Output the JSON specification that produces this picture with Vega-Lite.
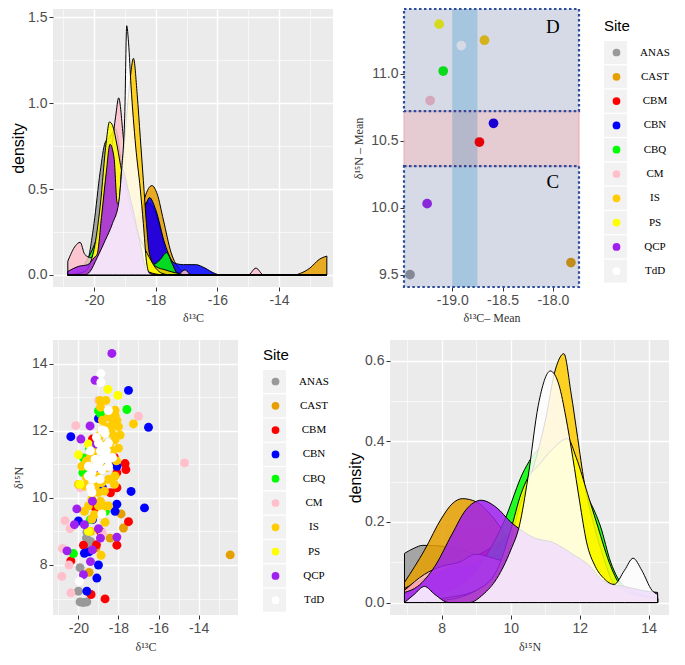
{
"$schema": "https://vega.github.io/schema/vega-lite/v6.json",
"background": "white",
"padding": {"left": 10, "top": 7, "right": 0, "bottom": 0},
"datasets": {
"keys": [{"k":"k01"},{"k":"k02"},{"k":"k03"},{"k":"k04"},{"k":"k05"},{"k":"k06"},{"k":"k07"},{"k":"k08"},{"k":"k09"},{"k":"k10"}],
"tl": [
{"s":"ANAS","x":-20.85,"d":0},{"s":"ANAS","x":-20.5,"d":0},{"s":"ANAS","x":-20.25,"d":0.05},{"s":"ANAS","x":-20.0,"d":0.3},{"s":"ANAS","x":-19.8,"d":0.6},{"s":"ANAS","x":-19.64,"d":0.77},{"s":"ANAS","x":-19.5,"d":0.8},{"s":"ANAS","x":-19.3,"d":0.85},{"s":"ANAS","x":-19.15,"d":0.7},{"s":"ANAS","x":-19.0,"d":0.5},{"s":"ANAS","x":-18.8,"d":0.2},{"s":"ANAS","x":-18.6,"d":0.05},{"s":"ANAS","x":-18.3,"d":0},{"s":"ANAS","x":-12.45,"d":0},
{"s":"CAST","x":-20.85,"d":0},{"s":"CAST","x":-19.5,"d":0.01},{"s":"CAST","x":-19.0,"d":0.05},{"s":"CAST","x":-18.6,"d":0.2},{"s":"CAST","x":-18.35,"d":0.45},{"s":"CAST","x":-18.12,"d":0.52},{"s":"CAST","x":-17.95,"d":0.47},{"s":"CAST","x":-17.75,"d":0.32},{"s":"CAST","x":-17.5,"d":0.13},{"s":"CAST","x":-17.2,"d":0.03},{"s":"CAST","x":-16.9,"d":0.005},{"s":"CAST","x":-16.5,"d":0},{"s":"CAST","x":-13.5,"d":0},{"s":"CAST","x":-13.3,"d":0.01},{"s":"CAST","x":-13.0,"d":0.04},{"s":"CAST","x":-12.7,"d":0.09},{"s":"CAST","x":-12.45,"d":0.11},
{"s":"CBM","x":-20.85,"d":0},{"s":"CBM","x":-19.8,"d":0},{"s":"CBM","x":-19.5,"d":0.02},{"s":"CBM","x":-19.2,"d":0.08},{"s":"CBM","x":-18.9,"d":0.2},{"s":"CBM","x":-18.6,"d":0.33},{"s":"CBM","x":-18.3,"d":0.42},{"s":"CBM","x":-18.1,"d":0.4},{"s":"CBM","x":-17.9,"d":0.3},{"s":"CBM","x":-17.7,"d":0.15},{"s":"CBM","x":-17.5,"d":0.05},{"s":"CBM","x":-17.2,"d":0.01},{"s":"CBM","x":-16.8,"d":0},{"s":"CBM","x":-12.45,"d":0},
{"s":"CBN","x":-20.85,"d":0.01},{"s":"CBN","x":-20.4,"d":0.03},{"s":"CBN","x":-20.0,"d":0.04},{"s":"CBN","x":-19.6,"d":0.05},{"s":"CBN","x":-19.3,"d":0.06},{"s":"CBN","x":-19.0,"d":0.1},{"s":"CBN","x":-18.6,"d":0.25},{"s":"CBN","x":-18.3,"d":0.42},{"s":"CBN","x":-18.2,"d":0.45},{"s":"CBN","x":-18.0,"d":0.38},{"s":"CBN","x":-17.7,"d":0.18},{"s":"CBN","x":-17.4,"d":0.07},{"s":"CBN","x":-17.1,"d":0.06},{"s":"CBN","x":-16.7,"d":0.06},{"s":"CBN","x":-16.4,"d":0.04},{"s":"CBN","x":-16.1,"d":0.01},{"s":"CBN","x":-15.9,"d":0},{"s":"CBN","x":-12.45,"d":0},
{"s":"CBQ","x":-20.85,"d":0},{"s":"CBQ","x":-20.5,"d":0.02},{"s":"CBQ","x":-20.25,"d":0.08},{"s":"CBQ","x":-19.9,"d":0.22},{"s":"CBQ","x":-19.6,"d":0.42},{"s":"CBQ","x":-19.3,"d":0.5},{"s":"CBQ","x":-19.0,"d":0.45},{"s":"CBQ","x":-18.7,"d":0.28},{"s":"CBQ","x":-18.4,"d":0.12},{"s":"CBQ","x":-18.1,"d":0.06},{"s":"CBQ","x":-17.85,"d":0.09},{"s":"CBQ","x":-17.65,"d":0.13},{"s":"CBQ","x":-17.45,"d":0.06},{"s":"CBQ","x":-17.3,"d":0.01},{"s":"CBQ","x":-16.9,"d":0},{"s":"CBQ","x":-12.45,"d":0},
{"s":"CM","x":-20.85,"d":0.08},{"s":"CM","x":-20.6,"d":0.17},{"s":"CM","x":-20.45,"d":0.19},{"s":"CM","x":-20.3,"d":0.12},{"s":"CM","x":-20.1,"d":0.1},{"s":"CM","x":-19.8,"d":0.3},{"s":"CM","x":-19.5,"d":0.62},{"s":"CM","x":-19.3,"d":0.92},{"s":"CM","x":-19.2,"d":1.03},{"s":"CM","x":-19.05,"d":0.8},{"s":"CM","x":-18.8,"d":0.3},{"s":"CM","x":-18.5,"d":0.05},{"s":"CM","x":-18.2,"d":0.01},{"s":"CM","x":-17.3,"d":0},{"s":"CM","x":-17.05,"d":0.03},{"s":"CM","x":-16.85,"d":0},{"s":"CM","x":-15.0,"d":0},{"s":"CM","x":-14.75,"d":0.04},{"s":"CM","x":-14.5,"d":0},{"s":"CM","x":-12.45,"d":0},
{"s":"IS","x":-20.85,"d":0},{"s":"IS","x":-20.0,"d":0.01},{"s":"IS","x":-19.5,"d":0.1},{"s":"IS","x":-19.2,"d":0.4},{"s":"IS","x":-19.0,"d":0.8},{"s":"IS","x":-18.85,"d":1.1},{"s":"IS","x":-18.72,"d":1.26},{"s":"IS","x":-18.6,"d":1.05},{"s":"IS","x":-18.5,"d":0.8},{"s":"IS","x":-18.4,"d":0.55},{"s":"IS","x":-18.3,"d":0.3},{"s":"IS","x":-18.2,"d":0.12},{"s":"IS","x":-18.0,"d":0.05},{"s":"IS","x":-17.7,"d":0.03},{"s":"IS","x":-17.3,"d":0.01},{"s":"IS","x":-17.0,"d":0},{"s":"IS","x":-12.45,"d":0},
{"s":"PS","x":-20.85,"d":0},{"s":"PS","x":-20.3,"d":0.02},{"s":"PS","x":-20.0,"d":0.15},{"s":"PS","x":-19.8,"d":0.4},{"s":"PS","x":-19.6,"d":0.78},{"s":"PS","x":-19.5,"d":0.89},{"s":"PS","x":-19.4,"d":0.87},{"s":"PS","x":-19.25,"d":0.75},{"s":"PS","x":-19.1,"d":0.6},{"s":"PS","x":-18.9,"d":0.45},{"s":"PS","x":-18.6,"d":0.25},{"s":"PS","x":-18.35,"d":0.15},{"s":"PS","x":-18.2,"d":0.1},{"s":"PS","x":-18.0,"d":0.04},{"s":"PS","x":-17.8,"d":0.01},{"s":"PS","x":-17.5,"d":0},{"s":"PS","x":-12.45,"d":0},
{"s":"QCP","x":-20.85,"d":0.02},{"s":"QCP","x":-20.5,"d":0.05},{"s":"QCP","x":-20.2,"d":0.06},{"s":"QCP","x":-20.0,"d":0.1},{"s":"QCP","x":-19.9,"d":0.12},{"s":"QCP","x":-19.75,"d":0.35},{"s":"QCP","x":-19.6,"d":0.6},{"s":"QCP","x":-19.48,"d":0.76},{"s":"QCP","x":-19.35,"d":0.68},{"s":"QCP","x":-19.25,"d":0.42},{"s":"QCP","x":-19.2,"d":0.41},{"s":"QCP","x":-19.15,"d":0.5},{"s":"QCP","x":-19.1,"d":0.62},{"s":"QCP","x":-18.9,"d":0.5},{"s":"QCP","x":-18.7,"d":0.35},{"s":"QCP","x":-18.5,"d":0.18},{"s":"QCP","x":-18.3,"d":0.03},{"s":"QCP","x":-18.1,"d":0.01},{"s":"QCP","x":-17.7,"d":0},{"s":"QCP","x":-12.45,"d":0},
{"s":"TdD","x":-20.85,"d":0},{"s":"TdD","x":-20.3,"d":0},{"s":"TdD","x":-20.13,"d":0.02},{"s":"TdD","x":-19.9,"d":0.1},{"s":"TdD","x":-19.64,"d":0.2},{"s":"TdD","x":-19.4,"d":0.3},{"s":"TdD","x":-19.2,"d":0.42},{"s":"TdD","x":-19.1,"d":0.62},{"s":"TdD","x":-19.0,"d":0.95},{"s":"TdD","x":-18.94,"d":1.45},{"s":"TdD","x":-18.88,"d":1.35},{"s":"TdD","x":-18.8,"d":1.1},{"s":"TdD","x":-18.65,"d":0.75},{"s":"TdD","x":-18.5,"d":0.5},{"s":"TdD","x":-18.4,"d":0.3},{"s":"TdD","x":-18.3,"d":0.08},{"s":"TdD","x":-18.2,"d":0.01},{"s":"TdD","x":-18.0,"d":0},{"s":"TdD","x":-12.45,"d":0}
],
"br": [
{"s":"ANAS","x":6.92,"d":0.122},{"s":"ANAS","x":7.2,"d":0.135},{"s":"ANAS","x":7.45,"d":0.142},{"s":"ANAS","x":8.0,"d":0.14},{"s":"ANAS","x":8.5,"d":0.13},{"s":"ANAS","x":9.0,"d":0.12},{"s":"ANAS","x":9.5,"d":0.1},{"s":"ANAS","x":10.0,"d":0.06},{"s":"ANAS","x":10.5,"d":0.03},{"s":"ANAS","x":11.0,"d":0.01},{"s":"ANAS","x":11.5,"d":0},{"s":"ANAS","x":14.26,"d":0},
{"s":"CAST","x":6.92,"d":0.05},{"s":"CAST","x":7.5,"d":0.13},{"s":"CAST","x":8.0,"d":0.21},{"s":"CAST","x":8.3,"d":0.245},{"s":"CAST","x":8.6,"d":0.258},{"s":"CAST","x":9.0,"d":0.25},{"s":"CAST","x":9.5,"d":0.21},{"s":"CAST","x":10.0,"d":0.15},{"s":"CAST","x":10.5,"d":0.1},{"s":"CAST","x":11.0,"d":0.07},{"s":"CAST","x":12.0,"d":0.04},{"s":"CAST","x":13.0,"d":0.02},{"s":"CAST","x":14.26,"d":0.01},
{"s":"CBM","x":6.92,"d":0.035},{"s":"CBM","x":7.5,"d":0.06},{"s":"CBM","x":8.0,"d":0.08},{"s":"CBM","x":8.6,"d":0.1},{"s":"CBM","x":9.3,"d":0.13},{"s":"CBM","x":10.0,"d":0.17},{"s":"CBM","x":10.5,"d":0.2},{"s":"CBM","x":11.0,"d":0.22},{"s":"CBM","x":11.5,"d":0.18},{"s":"CBM","x":12.0,"d":0.1},{"s":"CBM","x":12.5,"d":0.04},{"s":"CBM","x":13.0,"d":0.01},{"s":"CBM","x":14.26,"d":0},
{"s":"CBN","x":6.92,"d":0.02},{"s":"CBN","x":7.5,"d":0.05},{"s":"CBN","x":8.0,"d":0.08},{"s":"CBN","x":8.5,"d":0.09},{"s":"CBN","x":9.0,"d":0.1},{"s":"CBN","x":9.5,"d":0.13},{"s":"CBN","x":10.0,"d":0.17},{"s":"CBN","x":10.5,"d":0.17},{"s":"CBN","x":11.0,"d":0.16},{"s":"CBN","x":11.5,"d":0.14},{"s":"CBN","x":12.0,"d":0.12},{"s":"CBN","x":12.5,"d":0.08},{"s":"CBN","x":13.0,"d":0.05},{"s":"CBN","x":13.5,"d":0.02},{"s":"CBN","x":14.26,"d":0.01},
{"s":"CBQ","x":6.92,"d":0},{"s":"CBQ","x":8.0,"d":0.02},{"s":"CBQ","x":9.0,"d":0.08},{"s":"CBQ","x":9.8,"d":0.2},{"s":"CBQ","x":10.4,"d":0.33},{"s":"CBQ","x":10.93,"d":0.385},{"s":"CBQ","x":11.4,"d":0.35},{"s":"CBQ","x":11.9,"d":0.3},{"s":"CBQ","x":12.3,"d":0.25},{"s":"CBQ","x":12.6,"d":0.19},{"s":"CBQ","x":12.9,"d":0.1},{"s":"CBQ","x":13.3,"d":0.04},{"s":"CBQ","x":14.26,"d":0.01},
{"s":"CM","x":6.92,"d":0.03},{"s":"CM","x":7.5,"d":0.07},{"s":"CM","x":8.0,"d":0.09},{"s":"CM","x":8.5,"d":0.1},{"s":"CM","x":9.0,"d":0.12},{"s":"CM","x":9.5,"d":0.11},{"s":"CM","x":10.0,"d":0.1},{"s":"CM","x":10.5,"d":0.11},{"s":"CM","x":11.0,"d":0.12},{"s":"CM","x":11.5,"d":0.12},{"s":"CM","x":12.0,"d":0.11},{"s":"CM","x":12.5,"d":0.08},{"s":"CM","x":13.0,"d":0.04},{"s":"CM","x":13.5,"d":0.01},{"s":"CM","x":14.26,"d":0},
{"s":"IS","x":6.92,"d":0},{"s":"IS","x":8.0,"d":0.01},{"s":"IS","x":9.0,"d":0.03},{"s":"IS","x":9.8,"d":0.1},{"s":"IS","x":10.3,"d":0.25},{"s":"IS","x":10.6,"d":0.32},{"s":"IS","x":11.0,"d":0.45},{"s":"IS","x":11.3,"d":0.58},{"s":"IS","x":11.54,"d":0.618},{"s":"IS","x":11.75,"d":0.52},{"s":"IS","x":11.94,"d":0.41},{"s":"IS","x":12.13,"d":0.3},{"s":"IS","x":12.42,"d":0.19},{"s":"IS","x":12.7,"d":0.11},{"s":"IS","x":12.9,"d":0.06},{"s":"IS","x":13.2,"d":0.03},{"s":"IS","x":13.6,"d":0.02},{"s":"IS","x":14.26,"d":0.01},
{"s":"PS","x":6.92,"d":0},{"s":"PS","x":8.0,"d":0.005},{"s":"PS","x":9.0,"d":0.03},{"s":"PS","x":9.6,"d":0.08},{"s":"PS","x":10.0,"d":0.18},{"s":"PS","x":10.3,"d":0.27},{"s":"PS","x":10.5,"d":0.31},{"s":"PS","x":10.8,"d":0.34},{"s":"PS","x":11.2,"d":0.38},{"s":"PS","x":11.65,"d":0.407},{"s":"PS","x":11.9,"d":0.36},{"s":"PS","x":12.23,"d":0.27},{"s":"PS","x":12.52,"d":0.19},{"s":"PS","x":12.9,"d":0.09},{"s":"PS","x":13.2,"d":0.04},{"s":"PS","x":13.6,"d":0.02},{"s":"PS","x":14.26,"d":0.01},
{"s":"QCP","x":6.92,"d":0.025},{"s":"QCP","x":7.3,"d":0.04},{"s":"QCP","x":7.8,"d":0.09},{"s":"QCP","x":8.3,"d":0.17},{"s":"QCP","x":8.7,"d":0.23},{"s":"QCP","x":9.14,"d":0.254},{"s":"QCP","x":9.6,"d":0.235},{"s":"QCP","x":10.0,"d":0.2},{"s":"QCP","x":10.3,"d":0.18},{"s":"QCP","x":10.7,"d":0.16},{"s":"QCP","x":11.2,"d":0.15},{"s":"QCP","x":11.8,"d":0.12},{"s":"QCP","x":12.3,"d":0.09},{"s":"QCP","x":12.6,"d":0.06},{"s":"QCP","x":12.9,"d":0.045},{"s":"QCP","x":13.3,"d":0.04},{"s":"QCP","x":13.8,"d":0.03},{"s":"QCP","x":14.26,"d":0.025},
{"s":"TdD","x":6.92,"d":0},{"s":"TdD","x":7.2,"d":0.02},{"s":"TdD","x":7.5,"d":0.04},{"s":"TdD","x":7.8,"d":0.02},{"s":"TdD","x":8.2,"d":0},{"s":"TdD","x":8.8,"d":0},{"s":"TdD","x":9.2,"d":0.02},{"s":"TdD","x":9.6,"d":0.06},{"s":"TdD","x":10.0,"d":0.13},{"s":"TdD","x":10.25,"d":0.19},{"s":"TdD","x":10.5,"d":0.31},{"s":"TdD","x":10.8,"d":0.49},{"s":"TdD","x":11.15,"d":0.575},{"s":"TdD","x":11.4,"d":0.54},{"s":"TdD","x":11.6,"d":0.46},{"s":"TdD","x":11.8,"d":0.36},{"s":"TdD","x":12.0,"d":0.25},{"s":"TdD","x":12.2,"d":0.15},{"s":"TdD","x":12.45,"d":0.09},{"s":"TdD","x":12.7,"d":0.06},{"s":"TdD","x":13.0,"d":0.045},{"s":"TdD","x":13.3,"d":0.08},{"s":"TdD","x":13.55,"d":0.11},{"s":"TdD","x":13.8,"d":0.08},{"s":"TdD","x":14.1,"d":0.03},{"s":"TdD","x":14.26,"d":0.02}
],
"tr": [
{"s":"ANAS","x":-19.42,"y":9.5},{"s":"CAST","x":-17.82,"y":9.59},{"s":"CBM","x":-18.73,"y":10.49},{"s":"CBN","x":-18.59,"y":10.63},{"s":"CBQ","x":-19.09,"y":11.02},{"s":"CM","x":-19.22,"y":10.8},{"s":"IS","x":-18.68,"y":11.25},{"s":"PS","x":-19.13,"y":11.37},{"s":"QCP","x":-19.25,"y":10.03},{"s":"TdD","x":-18.91,"y":11.21}
],
"bl": [
{"s":"ANAS","c":-19.58,"n":8.98},{"s":"ANAS","c":-19.53,"n":8.69},{"s":"ANAS","c":-19.47,"n":8.59},{"s":"ANAS","c":-19.6,"n":8.8},{"s":"ANAS","c":-19.4,"n":8.7},{"s":"ANAS","c":-19.92,"n":7.92},{"s":"ANAS","c":-20.0,"n":7.22},{"s":"ANAS","c":-19.92,"n":6.9},{"s":"ANAS","c":-19.58,"n":6.9},{"s":"ANAS","c":-19.75,"n":6.88},{"s":"ANAS","c":-19.5,"n":8.5},
{"s":"CAST","c":-17.87,"n":9.52},{"s":"CAST","c":-17.75,"n":9.1},{"s":"CAST","c":-18.42,"n":8.8},{"s":"CAST","c":-19.12,"n":8.51},{"s":"CAST","c":-19.47,"n":7.78},{"s":"CAST","c":-12.42,"n":8.3},
{"s":"CBM","c":-17.67,"n":11.02},{"s":"CBM","c":-17.63,"n":10.84},{"s":"CBM","c":-18.08,"n":10.75},{"s":"CBM","c":-18.08,"n":10.3},{"s":"CBM","c":-17.5,"n":9.29},{"s":"CBM","c":-18.08,"n":8.59},{"s":"CBM","c":-19.75,"n":8.59},{"s":"CBM","c":-20.38,"n":8.12},{"s":"CBM","c":-19.37,"n":7.12},{"s":"CBM","c":-18.67,"n":6.99},{"s":"CBM","c":-19.3,"n":11.75},{"s":"CBM","c":-18.2,"n":11.2},{"s":"CBM","c":-18.4,"n":10.15},{"s":"CBM","c":-19.15,"n":9.7},{"s":"CBM","c":-19.1,"n":8.6},{"s":"CBM","c":-18.9,"n":9.0},
{"s":"CBN","c":-17.5,"n":13.2},{"s":"CBN","c":-16.5,"n":12.1},{"s":"CBN","c":-20.38,"n":11.82},{"s":"CBN","c":-19.0,"n":12.36},{"s":"CBN","c":-18.08,"n":10.94},{"s":"CBN","c":-17.37,"n":10.19},{"s":"CBN","c":-16.7,"n":9.7},{"s":"CBN","c":-18.08,"n":9.81},{"s":"CBN","c":-18.17,"n":9.6},{"s":"CBN","c":-20.0,"n":9.31},{"s":"CBN","c":-19.47,"n":8.39},{"s":"CBN","c":-19.7,"n":8.35},{"s":"CBN","c":-19.0,"n":8.0},{"s":"CBN","c":-19.08,"n":7.61},{"s":"CBN","c":-19.58,"n":7.22},{"s":"CBN","c":-18.8,"n":10.3},{"s":"CBN","c":-19.3,"n":9.35},{"s":"CBN","c":-18.5,"n":11.0},
{"s":"CBQ","c":-19.0,"n":12.59},{"s":"CBQ","c":-17.58,"n":12.63},{"s":"CBQ","c":-19.45,"n":11.48},{"s":"CBQ","c":-19.75,"n":11.19},{"s":"CBQ","c":-19.78,"n":10.75},{"s":"CBQ","c":-20.25,"n":8.34},{"s":"CBQ","c":-18.65,"n":9.6},{"s":"CBQ","c":-19.4,"n":9.35},{"s":"CBQ","c":-18.9,"n":12.5},
{"s":"CM","c":-19.0,"n":12.9},{"s":"CM","c":-17.0,"n":12.43},{"s":"CM","c":-20.13,"n":12.15},{"s":"CM","c":-14.7,"n":11.04},{"s":"CM","c":-20.67,"n":9.32},{"s":"CM","c":-20.42,"n":9.08},{"s":"CM","c":-20.8,"n":8.49},{"s":"CM","c":-20.47,"n":8.0},{"s":"CM","c":-20.83,"n":7.66},{"s":"CM","c":-20.38,"n":7.17},{"s":"CM","c":-18.3,"n":12.55},{"s":"CM","c":-19.9,"n":10.3},{"s":"CM","c":-18.8,"n":8.95},
{"s":"IS","c":-18.92,"n":12.9},{"s":"IS","c":-18.63,"n":12.9},{"s":"IS","c":-17.25,"n":12.2},{"s":"IS","c":-18.8,"n":12.31},{"s":"IS","c":-18.5,"n":12.41},{"s":"IS","c":-18.17,"n":12.46},{"s":"IS","c":-18.08,"n":12.31},{"s":"IS","c":-18.0,"n":12.12},{"s":"IS","c":-18.33,"n":11.92},{"s":"IS","c":-18.83,"n":12.02},{"s":"IS","c":-19.0,"n":11.73},{"s":"IS","c":-18.17,"n":11.73},{"s":"IS","c":-18.0,"n":11.48},{"s":"IS","c":-18.5,"n":11.33},{"s":"IS","c":-18.83,"n":11.14},{"s":"IS","c":-19.17,"n":10.94},{"s":"IS","c":-19.5,"n":10.94},{"s":"IS","c":-19.83,"n":10.94},{"s":"IS","c":-20.0,"n":10.4},{"s":"IS","c":-19.67,"n":10.35},{"s":"IS","c":-19.33,"n":10.35},{"s":"IS","c":-18.83,"n":10.45},{"s":"IS","c":-18.5,"n":10.55},{"s":"IS","c":-18.17,"n":10.65},{"s":"IS","c":-19.0,"n":10.16},{"s":"IS","c":-19.33,"n":9.96},{"s":"IS","c":-19.5,"n":9.76},{"s":"IS","c":-19.0,"n":9.76},{"s":"IS","c":-18.83,"n":9.57},{"s":"IS","c":-18.5,"n":9.76},{"s":"IS","c":-19.33,"n":9.37},{"s":"IS","c":-18.67,"n":9.27},{"s":"IS","c":-18.67,"n":9.76},{"s":"IS","c":-19.08,"n":10.65},{"s":"IS","c":-18.42,"n":11.63},{"s":"IS","c":-18.67,"n":12.12},{"s":"IS","c":-17.92,"n":11.87},{"s":"IS","c":-18.17,"n":12.61},{"s":"IS","c":-19.37,"n":9.0},{"s":"IS","c":-18.87,"n":8.29},{"s":"IS","c":-19.6,"n":10.6},{"s":"IS","c":-19.2,"n":11.4},{"s":"IS","c":-18.3,"n":12.2},{"s":"IS","c":-18.9,"n":11.9},{"s":"IS","c":-19.4,"n":11.2},{"s":"IS","c":-18.6,"n":10.9},{"s":"IS","c":-18.2,"n":10.4},{"s":"IS","c":-19.7,"n":9.6},{"s":"IS","c":-18.4,"n":12.0},{"s":"IS","c":-18.3,"n":11.4},{"s":"IS","c":-18.6,"n":11.6},{"s":"IS","c":-19.1,"n":10.4},{"s":"IS","c":-18.7,"n":10.2},{"s":"IS","c":-19.2,"n":9.5},{"s":"IS","c":-18.9,"n":12.7},{"s":"IS","c":-18.1,"n":11.1},{"s":"IS","c":-19.6,"n":11.1},{"s":"IS","c":-18.9,"n":9.9},
{"s":"PS","c":-18.53,"n":13.23},{"s":"PS","c":-18.03,"n":13.05},{"s":"PS","c":-20.0,"n":11.28},{"s":"PS","c":-19.92,"n":10.4},{"s":"PS","c":-19.5,"n":11.6},{"s":"PS","c":-19.5,"n":9.0},
{"s":"QCP","c":-18.33,"n":14.3},{"s":"QCP","c":-19.17,"n":13.5},{"s":"QCP","c":-19.42,"n":12.14},{"s":"QCP","c":-19.88,"n":11.75},{"s":"QCP","c":-20.08,"n":9.67},{"s":"QCP","c":-19.0,"n":9.08},{"s":"QCP","c":-18.08,"n":8.83},{"s":"QCP","c":-20.57,"n":8.42},{"s":"QCP","c":-19.75,"n":7.71},{"s":"QCP","c":-19.3,"n":9.9},{"s":"QCP","c":-19.0,"n":10.9},{"s":"QCP","c":-19.7,"n":9.2},{"s":"QCP","c":-19.4,"n":8.1},{"s":"QCP","c":-18.9,"n":8.8},{"s":"QCP","c":-20.2,"n":9.2},{"s":"QCP","c":-19.1,"n":11.6},{"s":"QCP","c":-19.3,"n":8.45},
{"s":"TdD","c":-18.88,"n":13.7},{"s":"TdD","c":-18.88,"n":13.44},{"s":"TdD","c":-18.5,"n":12.6},{"s":"TdD","c":-18.83,"n":12.02},{"s":"TdD","c":-18.67,"n":11.92},{"s":"TdD","c":-19.0,"n":11.63},{"s":"TdD","c":-18.83,"n":11.53},{"s":"TdD","c":-18.5,"n":11.63},{"s":"TdD","c":-18.67,"n":11.33},{"s":"TdD","c":-19.17,"n":11.14},{"s":"TdD","c":-18.83,"n":11.14},{"s":"TdD","c":-18.5,"n":11.14},{"s":"TdD","c":-19.5,"n":10.94},{"s":"TdD","c":-19.33,"n":10.75},{"s":"TdD","c":-18.83,"n":10.84},{"s":"TdD","c":-18.5,"n":10.94},{"s":"TdD","c":-19.0,"n":10.94},{"s":"TdD","c":-19.5,"n":10.65},{"s":"TdD","c":-18.92,"n":10.55},{"s":"TdD","c":-19.33,"n":10.16},{"s":"TdD","c":-18.83,"n":9.52},{"s":"TdD","c":-19.95,"n":7.51},{"s":"TdD","c":-19.3,"n":10.55},{"s":"TdD","c":-18.7,"n":12.0},{"s":"TdD","c":-19.4,"n":11.4},{"s":"TdD","c":-18.3,"n":11.2},{"s":"TdD","c":-19.1,"n":11.8},{"s":"TdD","c":-18.9,"n":11.4},{"s":"TdD","c":-19.2,"n":10.9},{"s":"TdD","c":-18.6,"n":11.4},{"s":"TdD","c":-19.4,"n":10.3}
]
},
"spacing": 17,
"resolve": {"scale": {"color": "independent", "fill": "independent"}, "legend": {"color": "independent", "fill": "independent"}},
"vconcat": [
{
"spacing": 19,
"resolve": {"scale": {"color": "independent", "fill": "independent"}, "legend": {"color": "independent", "fill": "independent"}},
"hconcat": [
{
"width": 280, "height": 278,
"data": {"name": "tl"},
"mark": {"type": "area", "stroke": "black", "strokeWidth": 1, "fillOpacity": 0.85, "interpolate": "monotone"},
"encoding": {
"x": {"field": "x", "type": "quantitative", "title": "δ¹³C",
 "scale": {"domain": [-21.33, -12.25], "nice": false, "zero": false},
 "axis": {"values": [-21,-20,-19,-18,-17,-16,-15,-14,-13], "minExtent": 20, "maxExtent": 20, "titlePadding": 5,
  "labelExpr": "round(datum.value) % 2 === 0 ? replace(format(datum.value, 'd'), '−', '-') : ''",
  "gridWidth": {"condition": {"test": "round(datum.value) % 2 === 0", "value": 1.4}, "value": 0.6},
  "tickOpacity": {"condition": {"test": "round(datum.value) % 2 === 0", "value": 1}, "value": 0}}},
"y": {"field": "d", "type": "quantitative", "stack": null, "title": "density",
 "scale": {"domain": [-0.07, 1.547], "nice": false, "zero": false},
 "axis": {"values": [0,0.25,0.5,0.75,1,1.25,1.5], "minExtent": 26, "maxExtent": 26, "titlePadding": 1,
  "titleFont": "Liberation Sans", "titleFontSize": 16, "titleColor": "#000000",
  "labelExpr": "round(datum.value*4) % 2 === 0 ? format(datum.value, '.1f') : ''",
  "gridWidth": {"condition": {"test": "round(datum.value*4) % 2 === 0", "value": 1.4}, "value": 0.6},
  "tickOpacity": {"condition": {"test": "round(datum.value*4) % 2 === 0", "value": 1}, "value": 0}}},
"color": {"field": "s", "type": "nominal", "legend": null,
 "scale": {"domain": ["ANAS","CAST","CBM","CBN","CBQ","CM","IS","PS","QCP","TdD"], "range": ["#999999","#E69F00","#FF0000","#0000FF","#00FF00","#FFC0CB","#FFCC00","#FFFF00","#A020F0","#FFFFFF"]}}
}
},
{
"width": 175, "height": 278,
"layer": [
{
"data": {"values": [{"g": -19.25}, {"g": -18.75}, {"g": -18.25}, {"g": -17.75}]},
"mark": {"type": "rule", "color": "#FFFFFF", "strokeWidth": 0.6},
"encoding": {
"x": {"field": "g", "type": "quantitative", "title": "δ¹³C– Mean",
 "scale": {"domain": [-19.48, -17.74], "nice": false, "zero": false},
 "axis": {"values": [-19, -18.5, -18], "minExtent": 20, "maxExtent": 20, "titlePadding": 5, "gridWidth": 1.4,
  "labelExpr": "'-' + format(-datum.value, '.1f')"}}
}
},
{
"data": {"values": [{"a": -19.0, "b": -18.75}]},
"mark": {"type": "rect", "fill": "#87CEEB", "opacity": 0.5},
"encoding": {
"x": {"field": "a", "type": "quantitative", "title": "δ¹³C– Mean"},
"x2": {"field": "b"}
}
},
{
"data": {"name": "keys"},
"mark": {"type": "square", "opacity": 0},
"encoding": {
"color": {"field": "k", "type": "nominal", "title": "Site",
 "scale": {"domain": ["k01","k02","k03","k04","k05","k06","k07","k08","k09","k10"], "range": ["#F2F2F2","#F2F2F2","#F2F2F2","#F2F2F2","#F2F2F2","#F2F2F2","#F2F2F2","#F2F2F2","#F2F2F2","#F2F2F2"]},
 "legend": {"orient": "none", "legendX": 200, "legendY": 10, "symbolType": "square", "symbolSize": 529, "symbolOpacity": 1, "symbolStrokeWidth": 0, "labelExpr": "''", "rowPadding": 1.3, "padding": 0, "titlePadding": 7}}
}
},
{
"data": {"name": "tr"},
"mark": {"type": "point", "filled": true, "size": 95, "opacity": 1},
"encoding": {
"x": {"field": "x", "type": "quantitative", "title": "δ¹³C– Mean"},
"y": {"field": "y", "type": "quantitative", "title": "δ¹⁵N – Mean",
 "scale": {"domain": [9.408, 11.483], "nice": false, "zero": false},
 "axis": {"values": [9.5,9.75,10,10.25,10.5,10.75,11,11.25], "minExtent": 34, "maxExtent": 34, "titlePadding": 5,
  "labelExpr": "round(datum.value*4) % 2 === 0 ? format(datum.value, '.1f') : ''",
  "gridWidth": {"condition": {"test": "round(datum.value*4) % 2 === 0", "value": 1.4}, "value": 0.6},
  "tickOpacity": {"condition": {"test": "round(datum.value*4) % 2 === 0", "value": 1}, "value": 0}}},
"fill": {"field": "s", "type": "nominal",
 "scale": {"domain": ["ANAS","CAST","CBM","CBN","CBQ","CM","IS","PS","QCP","TdD"], "range": ["#999999","#E69F00","#FF0000","#0000FF","#00FF00","#FFC0CB","#FFCC00","#FFFF00","#A020F0","#FFFFFF"]},
 "legend": {"title": null, "orient": "none", "legendX": 207, "legendY": 38, "symbolType": "circle", "symbolSize": 60, "symbolOpacity": 1, "symbolStrokeWidth": 0, "rowPadding": 12.3, "labelOffset": 33, "labelAlign": "center", "padding": 0}}
}
},
{
"data": {"values": [{"a": 10.31, "b": 10.72}]},
"mark": {"type": "rect", "fill": "#780020", "fillOpacity": 0.2, "stroke": "#EBA8B4", "strokeWidth": 1},
"encoding": {"y": {"field": "a", "type": "quantitative", "title": "δ¹⁵N – Mean"}, "y2": {"field": "b"}}
},
{
"data": {"values": [{"a": 10.72, "b": 11.483}, {"a": 9.408, "b": 10.31}]},
"mark": {"type": "rect", "fill": "#2D4682", "fillOpacity": 0.2, "stroke": "#2B4C9B", "strokeWidth": 2.2, "strokeDash": [2.5, 2.5]},
"encoding": {"y": {"field": "a", "type": "quantitative", "title": "δ¹⁵N – Mean"}, "y2": {"field": "b"}}
},
{
"data": {"values": [{"x": -18.0, "y": 11.35, "t": "D"}, {"x": -18.0, "y": 10.19, "t": "C"}]},
"mark": {"type": "text", "font": "Liberation Serif", "fontSize": 19, "color": "#000000"},
"encoding": {"x": {"field": "x", "type": "quantitative", "title": "δ¹³C– Mean"}, "y": {"field": "y", "type": "quantitative", "title": "δ¹⁵N – Mean"}, "text": {"field": "t"}}
}
]
}
]
},
{
"spacing": 18,
"resolve": {"scale": {"color": "independent", "fill": "independent"}, "legend": {"color": "independent", "fill": "independent"}},
"hconcat": [
{
"width": 185, "height": 275,
"layer": [
{
"data": {"name": "keys"},
"mark": {"type": "square", "opacity": 0},
"encoding": {
"color": {"field": "k", "type": "nominal", "title": "Site",
 "scale": {"domain": ["k01","k02","k03","k04","k05","k06","k07","k08","k09","k10"], "range": ["#F2F2F2","#F2F2F2","#F2F2F2","#F2F2F2","#F2F2F2","#F2F2F2","#F2F2F2","#F2F2F2","#F2F2F2","#F2F2F2"]},
 "legend": {"orient": "none", "legendX": 210, "legendY": 8, "symbolType": "square", "symbolSize": 529, "symbolOpacity": 1, "symbolStrokeWidth": 0, "labelExpr": "''", "rowPadding": 1.3, "padding": 0, "titlePadding": 7}}
}
},
{
"data": {"name": "bl"},
"mark": {"type": "point", "filled": true, "size": 80, "opacity": 1},
"encoding": {
"x": {"field": "c", "type": "quantitative", "title": "δ¹³C",
 "scale": {"domain": [-21.27, -12.03], "nice": false, "zero": false},
 "axis": {"values": [-21,-20,-19,-18,-17,-16,-15,-14,-13], "minExtent": 20, "maxExtent": 20, "titlePadding": 6,
  "labelExpr": "round(datum.value) % 2 === 0 ? replace(format(datum.value, 'd'), '−', '-') : ''",
  "gridWidth": {"condition": {"test": "round(datum.value) % 2 === 0", "value": 1.4}, "value": 0.6},
  "tickOpacity": {"condition": {"test": "round(datum.value) % 2 === 0", "value": 1}, "value": 0}}},
"y": {"field": "n", "type": "quantitative", "title": "δ¹⁵N",
 "scale": {"domain": [6.51, 14.7], "nice": false, "zero": false},
 "axis": {"values": [7,8,9,10,11,12,13,14], "minExtent": 22, "maxExtent": 22, "titlePadding": 6,
  "labelExpr": "round(datum.value) % 2 === 0 ? format(datum.value, 'd') : ''",
  "gridWidth": {"condition": {"test": "round(datum.value) % 2 === 0", "value": 1.4}, "value": 0.6},
  "tickOpacity": {"condition": {"test": "round(datum.value) % 2 === 0", "value": 1}, "value": 0}}},
"fill": {"field": "s", "type": "nominal",
 "scale": {"domain": ["ANAS","CAST","CBM","CBN","CBQ","CM","IS","PS","QCP","TdD"], "range": ["#999999","#E69F00","#FF0000","#0000FF","#00FF00","#FFC0CB","#FFCC00","#FFFF00","#A020F0","#FFFFFF"]},
 "legend": {"title": null, "orient": "none", "legendX": 217, "legendY": 36, "symbolType": "circle", "symbolSize": 60, "symbolOpacity": 1, "symbolStrokeWidth": 0, "rowPadding": 12.3, "labelOffset": 33, "labelAlign": "center", "padding": 0}}
}
}
]
},
{
"width": 279, "height": 275,
"data": {"name": "br"},
"mark": {"type": "area", "stroke": "black", "strokeWidth": 1, "fillOpacity": 0.85, "interpolate": "monotone"},
"encoding": {
"x": {"field": "x", "type": "quantitative", "title": "δ¹⁵N",
 "scale": {"domain": [6.5, 14.59], "nice": false, "zero": false},
 "axis": {"values": [7,8,9,10,11,12,13,14], "minExtent": 20, "maxExtent": 20, "titlePadding": 6,
  "labelExpr": "round(datum.value) % 2 === 0 ? format(datum.value, 'd') : ''",
  "gridWidth": {"condition": {"test": "round(datum.value) % 2 === 0", "value": 1.4}, "value": 0.6},
  "tickOpacity": {"condition": {"test": "round(datum.value) % 2 === 0", "value": 1}, "value": 0}}},
"y": {"field": "d", "type": "quantitative", "stack": null, "title": "density",
 "scale": {"domain": [-0.031, 0.652], "nice": false, "zero": false},
 "axis": {"values": [0,0.1,0.2,0.3,0.4,0.5,0.6], "minExtent": 26, "maxExtent": 26, "titlePadding": 1,
  "titleFont": "Liberation Sans", "titleFontSize": 16, "titleColor": "#000000",
  "labelExpr": "round(datum.value*10) % 2 === 0 ? format(datum.value, '.1f') : ''",
  "gridWidth": {"condition": {"test": "round(datum.value*10) % 2 === 0", "value": 1.4}, "value": 0.6},
  "tickOpacity": {"condition": {"test": "round(datum.value*10) % 2 === 0", "value": 1}, "value": 0}}},
"color": {"field": "s", "type": "nominal", "legend": null,
 "scale": {"domain": ["ANAS","CAST","CBM","CBN","CBQ","CM","IS","PS","QCP","TdD"], "range": ["#999999","#E69F00","#FF0000","#0000FF","#00FF00","#FFC0CB","#FFCC00","#FFFF00","#A020F0","#FFFFFF"]}}
}
}
]
}
],
"config": {
"view": {"fill": "#EBEBEB", "stroke": null},
"axis": {"domain": false, "grid": true, "gridColor": "#FFFFFF", "labelFont": "Liberation Sans", "labelFontSize": 14, "labelColor": "#4D4D4D", "tickColor": "#333333", "tickSize": 4, "tickWidth": 1, "labelPadding": 2, "labelFlush": false, "labelOverlap": false, "titleFont": "Liberation Serif", "titleFontSize": 12, "titleFontWeight": "normal", "titleColor": "#333333"},
"legend": {"titleFont": "Liberation Sans", "titleFontSize": 15, "titleFontWeight": "normal", "titleColor": "#000000", "labelFont": "Liberation Serif", "labelFontSize": 11, "labelColor": "#000000"}
}
}
